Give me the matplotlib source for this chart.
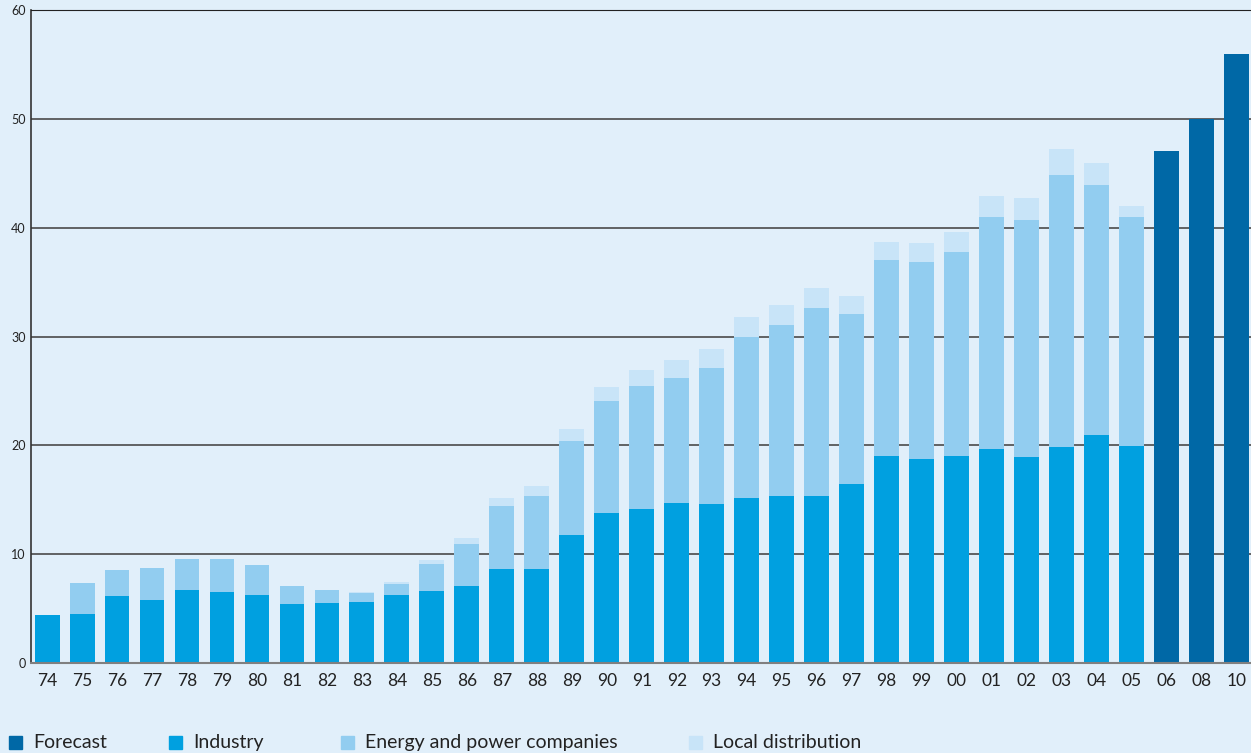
import matplotlib.pyplot as plt
import matplotlib.patches as mpatches
import numpy as np

plt.rcParams['font.family'] = ['Lato', 'DejaVu Sans']

# data
years = ['74', '75', '76', '77', '78', '79', '80', '81', '82', '83', '84', '85', '86', '87',
         '88', '89', '90', '91', '92', '93', '94', '95', '96', '97', '98', '99', '00', '01',
         '02', '03', '04', '05', '06', '08', '10']
industry = [4.4, 4.5, 6.15, 5.8, 6.7, 6.5, 6.25, 5.4, 5.5, 5.6, 6.25, 6.6, 7.1, 8.65,
            8.65, 11.75, 13.8, 14.15, 14.7, 14.6, 15.15, 15.35, 15.35, 16.45, 19.0, 18.75,
            19.0, 19.65, 18.95, 19.85, 20.95, 19.95, 0, 0, 0]
energy = [0, 2.85, 2.4, 2.95, 2.85, 3.05, 2.75, 1.65, 1.2, 0.85, 1.0, 2.5, 3.85, 5.8,
          6.7, 8.65, 10.3, 11.3, 11.5, 12.5, 14.8, 15.7, 17.3, 15.6, 18.05, 18.1,
          18.8, 21.35, 21.75, 25.0, 23.0, 21.05, 0, 0, 0]
local = [0, 0, 0, 0, 0, 0, 0, 0, 0, 0.07, 0.2, 0.35, 0.55, 0.75, 0.9, 1.1, 1.3, 1.45,
         1.65, 1.75, 1.85, 1.85, 1.85, 1.65, 1.65, 1.75, 1.8, 1.9, 2.0, 2.4, 2.0, 1.0,
         0, 0, 0]
forecast = [0] * 32 + [47, 50, 56]

c_fore = '#0068a6'
c_ind = '#00a0e0'
c_en = '#92cdf0'
c_loc = '#c8e4f8'
bg = '#e1effa'
txt = '#222222'

fig = plt.figure(figsize=(12.51, 7.53), dpi=100, facecolor=bg)
ax = fig.add_axes([0.0248, 0.1195, 0.9752, 0.8672], facecolor=bg)

x = np.arange(len(years))
ind = np.array(industry)
en = np.array(energy)
loc = np.array(local)
w = 0.71
ax.bar(x, ind, w, color=c_ind, zorder=3)
ax.bar(x, en, w, bottom=ind, color=c_en, zorder=3)
ax.bar(x, loc, w, bottom=ind + en, color=c_loc, zorder=3)
ax.bar(x, forecast, w, color=c_fore, zorder=3)

ax.set_xlim(-0.46, len(years) - 1 + 0.42)
ax.set_ylim(0, 60)
ax.set_yticks(range(0, 61, 10))
ax.set_xticks(x)
ax.set_xticklabels(years)
ax.yaxis.grid(True, color='#4a4a4a', linewidth=1.2, zorder=1)
ax.set_axisbelow(True)
ax.tick_params(axis='y', length=0, pad=4, labelsize=9, labelcolor=txt)
ax.tick_params(axis='x', length=0, pad=7, labelsize=12.5, labelcolor=txt)
ax.spines['right'].set_visible(False)
ax.spines['top'].set_color('#222222')
ax.spines['left'].set_color('#333333')
ax.spines['left'].set_linewidth(1.2)
ax.spines['bottom'].set_color('#808080')
ax.spines['bottom'].set_linewidth(1.5)
ax.spines['bottom'].set_zorder(4)

# legend along the bottom
labels = ['Forecast', 'Industry', 'Energy and power companies', 'Local distribution']
colors = [c_fore, c_ind, c_en, c_loc]
xs = [9, 169, 341, 689]
W, H = 1251, 753
for lx, lab, col in zip(xs, labels, colors):
    fig.patches.append(mpatches.Rectangle((lx / W, (H - 749) / H), 13 / W, 13 / H,
                                          transform=fig.transFigure, color=col))
    fig.text((lx + 24) / W, (H - 748) / H, lab, fontsize=14, color=txt, va='baseline')

fig.savefig('out.png', dpi=100, facecolor=bg)
